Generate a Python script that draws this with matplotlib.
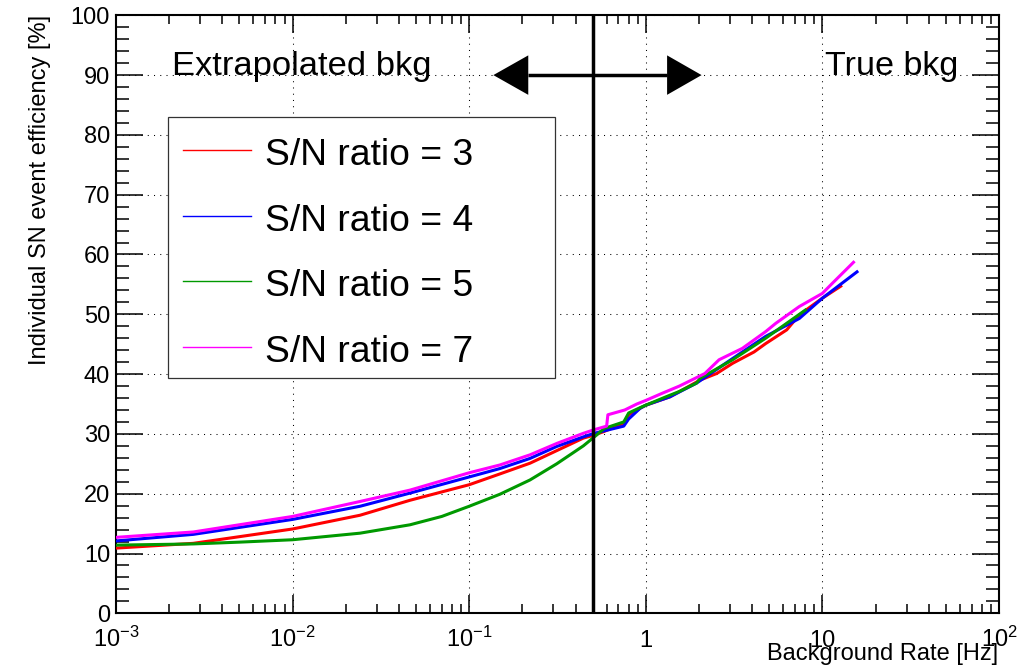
import matplotlib
matplotlib.use("Agg")
import matplotlib.pyplot as plt
import matplotlib.transforms as mtransforms
from matplotlib.lines import Line2D
from matplotlib.patches import Rectangle
from matplotlib.ticker import FixedLocator, LogLocator, MultipleLocator, NullFormatter

plt.rcParams['font.family'] = ['Liberation Sans', 'DejaVu Sans']
plt.rcParams['mathtext.fontset'] = 'custom'
plt.rcParams['mathtext.rm'] = 'Liberation Sans'
plt.rcParams['mathtext.default'] = 'regular'

# efficiency [%] vs background rate [Hz] for each S/N threshold
rate_sn3 = [0.001, 0.00274, 0.01, 0.0241, 0.0462, 0.1, 0.149, 0.221, 0.313, 0.443,
            0.51, 0.58, 0.75, 0.80, 0.93, 1.0, 1.37, 2.03, 2.52, 3.1, 4.1, 4.77,
            6.28, 7.4, 10.0, 12.7]
eff_sn3 = [10.9, 11.7, 14.1, 16.4, 18.9, 21.5, 23.3, 25.1, 27.2, 29.3,
           29.8, 30.4, 31.8, 33.2, 34.3, 34.8, 36.2, 39.0, 40.1, 41.8, 43.7, 45.1,
           47.4, 49.9, 52.7, 54.7]

rate_sn4 = [0.001, 0.00274, 0.01, 0.0241, 0.0462, 0.1, 0.149, 0.221, 0.313, 0.443,
            0.51, 0.75, 0.80, 0.93, 1.0, 1.37, 1.94, 3.1, 4.77, 7.4, 10.0, 15.7]
eff_sn4 = [12.1, 13.2, 15.7, 17.9, 20.1, 22.8, 24.2, 25.9, 27.9, 29.5,
           30.1, 31.3, 32.5, 34.3, 34.8, 36.2, 38.5, 42.6, 46.3, 49.3, 52.7, 57.1]

rate_sn5 = [0.001, 0.00274, 0.005, 0.01, 0.0241, 0.0462, 0.07, 0.1, 0.149, 0.221,
            0.313, 0.443, 0.526, 0.58, 0.75, 0.80, 0.93, 1.0, 1.30, 1.55, 1.94,
            2.03, 3.1, 4.77, 6.28, 8.0]
eff_sn5 = [11.4, 11.6, 11.9, 12.3, 13.4, 14.8, 16.2, 17.9, 19.9, 22.3,
           25.0, 28.0, 29.8, 30.9, 32.0, 33.5, 34.4, 34.8, 36.2, 37.1, 38.5,
           39.3, 42.4, 46.0, 48.5, 50.7]

rate_sn7 = [0.001, 0.00274, 0.01, 0.0241, 0.0462, 0.1, 0.149, 0.221, 0.313, 0.443,
            0.51, 0.60, 0.61, 0.76, 0.89, 1.0, 1.24, 1.55, 2.16, 2.60, 3.52, 4.77,
            5.45, 7.4, 10.0, 11.4, 15.0]
eff_sn7 = [12.7, 13.6, 16.2, 18.7, 20.6, 23.5, 24.8, 26.5, 28.4, 30.1,
           30.7, 31.3, 33.2, 34.0, 35.0, 35.6, 36.8, 38.0, 40.1, 42.4, 44.3, 47.1,
           48.5, 51.3, 53.5, 55.2, 58.7]

series_rates = [rate_sn3, rate_sn4, rate_sn5, rate_sn7]
series_effs = [eff_sn3, eff_sn4, eff_sn5, eff_sn7]
series_labels = ['S/N ratio = 3', 'S/N ratio = 4', 'S/N ratio = 5', 'S/N ratio = 7']
series_colors = ['#ff0000', '#0000ff', '#009900', '#ff00ff']

xtick_vals = [1e-3, 1e-2, 1e-1, 1, 10, 100]
xtick_labels = ['$10^{-3}$', '$10^{-2}$', '$10^{-1}$', '1', '10', '$10^{2}$']

# boundary between extrapolated and measured background
bkg_split = 0.5
arrow_y = 90
arrow_left_tip, arrow_left_base = 0.137, 0.216
arrow_right_base, arrow_right_tip = 1.32, 2.07
arrow_half_height = 3.3

W, H = 1036, 669


def fx(px):
    return px / W


def fy(py):
    return 1 - py / H


fig = plt.figure(figsize=(W / 100, H / 100), dpi=100)
ax = fig.add_axes([fx(116), fy(613.3), 883 / W, 598 / H])

for rate, eff, col in zip(series_rates, series_effs, series_colors):
    ax.plot(rate, eff, color=col, lw=2.2, zorder=3, solid_joinstyle='round')

ax.set_xscale('log')
ax.set_xlim(1e-3, 1e2)
ax.set_ylim(0, 100)

ax.xaxis.set_major_locator(FixedLocator(xtick_vals))
ax.xaxis.set_minor_locator(LogLocator(base=10, subs=range(2, 10), numticks=20))
ax.xaxis.set_major_formatter(NullFormatter())
ax.xaxis.set_minor_formatter(NullFormatter())
ax.yaxis.set_major_locator(MultipleLocator(10))
ax.yaxis.set_minor_locator(MultipleLocator(2))

ax.tick_params(axis='both', which='both', direction='in', top=True, right=True,
               color='black', width=1.1)
ax.tick_params(axis='x', which='major', length=13)
ax.tick_params(axis='x', which='minor', length=6.5)
ax.tick_params(axis='y', which='major', length=19.4, pad=4.3, labelsize=17)
ax.tick_params(axis='y', which='minor', length=9.4)
for sp in ax.spines.values():
    sp.set_linewidth(1.5)

ax.grid(True, which='major', color='black', lw=0.75, linestyle=(0, (1, 5)))

# x tick labels on a common baseline
trans_x = mtransforms.blended_transform_factory(ax.transData, ax.transAxes)
for v, lab in zip(xtick_vals, xtick_labels):
    ax.text(v, -0.0564, lab, transform=trans_x, ha='center', va='baseline',
            fontsize=17)

# separation line and arrows
ax.axvline(bkg_split, color='black', lw=2.5, zorder=4)
ax.plot([arrow_left_base, arrow_right_base], [arrow_y, arrow_y], color='black',
        lw=2.5, zorder=4, solid_capstyle='butt')
ax.fill([arrow_left_tip, arrow_left_base, arrow_left_base],
        [arrow_y, arrow_y + arrow_half_height, arrow_y - arrow_half_height],
        color='black', zorder=4, lw=0)
ax.fill([arrow_right_tip, arrow_right_base, arrow_right_base],
        [arrow_y, arrow_y + arrow_half_height, arrow_y - arrow_half_height],
        color='black', zorder=4, lw=0)

ax.text(0.00207, 90, 'Extrapolated bkg', fontsize=24.8, va='baseline', ha='left')
ax.text(10.35, 90, 'True bkg', fontsize=24.6, va='baseline', ha='left')

# legend box
fig.patches.append(Rectangle((fx(168), fy(378)), fx(555) - fx(168), fy(117) - fy(378),
                             transform=fig.transFigure, facecolor='white',
                             edgecolor='#333333', lw=0.9, zorder=5))
row_y = [150, 215.5, 281, 346.5]
for lab, col, yc in zip(series_labels, series_colors, row_y):
    fig.add_artist(Line2D([fx(182.7), fx(250.7)], [fy(yc), fy(yc)], color=col,
                          lw=1.0, transform=fig.transFigure, zorder=6))
    fig.text(fx(265), fy(yc + 15), lab, fontsize=26.8, va='baseline', ha='left',
             zorder=6)

fig.text(fx(40), fy(15), 'Individual SN event efficiency [%]', rotation=90,
         ha='center', va='top', fontsize=17)
fig.text(fx(998), fy(660), 'Background Rate [Hz]', ha='right', va='baseline',
         fontsize=17)

fig.savefig('out.png', dpi=100)
